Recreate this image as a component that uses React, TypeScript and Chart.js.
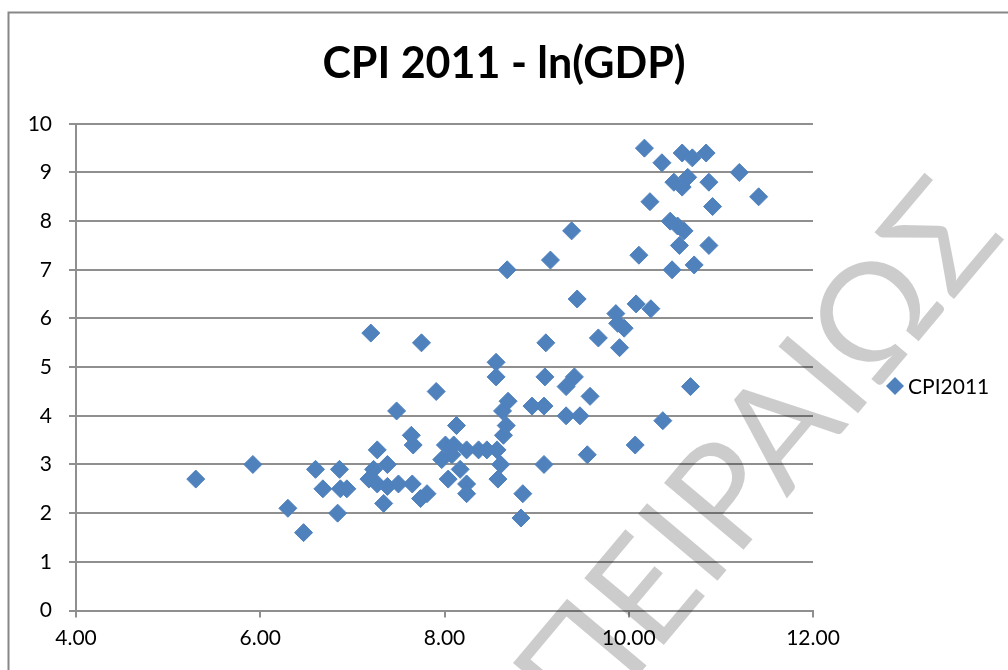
import React, { useEffect, useRef } from "react";
import { Chart, registerables } from "chart.js";

Chart.register(...registerables);

const chartTitle = "CPI 2011 - ln(GDP)";
const seriesName = "CPI2011";
const watermarkText = "ΠΕΙΡΑΙΩΣ";

// ln(GDP) values (x) and CPI 2011 values (y)
const lnGDP = [
  5.3, 5.92, 6.3, 6.47, 6.6, 6.68, 6.84, 6.86, 6.87, 6.94,
  7.18, 7.2, 7.23, 7.27, 7.27, 7.34, 7.38, 7.38, 7.48, 7.5,
  7.64, 7.65, 7.66, 7.74, 7.75, 7.81, 7.91, 7.97, 8.01, 8.04,
  8.08, 8.1, 8.13, 8.17, 8.24, 8.24, 8.24, 8.37, 8.46, 8.56,
  8.56, 8.57, 8.58, 8.61, 8.63, 8.64, 8.67, 8.68, 8.69, 8.83,
  8.85, 8.95, 9.08, 9.08, 9.09, 9.1, 9.15, 9.32, 9.32, 9.38,
  9.41, 9.44, 9.47, 9.55, 9.58, 9.67, 9.86, 9.88, 9.9, 9.95,
  10.07, 10.08, 10.11, 10.17, 10.23, 10.24, 10.36, 10.37, 10.45, 10.47,
  10.49, 10.53, 10.55, 10.58, 10.58, 10.6, 10.64, 10.67, 10.69, 10.71,
  10.84, 10.87, 10.87, 10.91, 11.2, 11.41,
];
const cpi2011 = [
  2.7, 3.0, 2.1, 1.6, 2.9, 2.5, 2.0, 2.9, 2.5, 2.5,
  2.7, 5.7, 2.9, 3.3, 2.6, 2.2, 3.0, 2.55, 4.1, 2.6,
  3.6, 2.6, 3.4, 2.3, 5.5, 2.4, 4.5, 3.1, 3.4, 2.7,
  3.2, 3.4, 3.8, 2.9, 3.3, 2.6, 2.4, 3.3, 3.3, 5.1,
  4.8, 3.3, 2.7, 3.0, 4.1, 3.6, 3.8, 7.0, 4.3, 1.9,
  2.4, 4.2, 4.2, 3.0, 4.8, 5.5, 7.2, 4.6, 4.0, 7.8,
  4.8, 6.4, 4.0, 3.2, 4.4, 5.6, 6.1, 5.9, 5.4, 5.8,
  3.4, 6.3, 7.3, 9.5, 8.4, 6.2, 9.2, 3.9, 8.0, 7.0,
  8.8, 7.9, 7.5, 9.4, 8.7, 7.8, 8.9, 4.6, 9.3, 7.1,
  9.4, 8.8, 7.5, 8.3, 9.0, 8.5,
];

const xMin = 4;
const xMax = 12;
const xStep = 2;
const yMin = 0;
const yMax = 10;
const yStep = 1;

const FONT = "Lato, 'Open Sans', 'DejaVu Sans', sans-serif";
const MARKER = "#4F81BD";
const GRID = "#8f8f8f";

export default function App() {
  const ref = useRef<HTMLCanvasElement | null>(null);

  useEffect(() => {
    if (!ref.current) return;
    const points = lnGDP.map((x, i) => ({ x, y: cpi2011[i] }));

    const frame = {
      id: "frame",
      beforeDraw(chart: any) {
        const ctx = chart.ctx;
        ctx.save();
        ctx.fillStyle = "#ffffff";
        ctx.fillRect(0, 0, chart.width, chart.height);
        ctx.strokeStyle = "#878787";
        ctx.lineWidth = 2;
        ctx.strokeRect(8.5, 12.5, chart.width + 20, chart.height + 20);
        ctx.restore();
      },
    };

    const legendDraw = {
      id: "legendDraw",
      afterDraw(chart: any) {
        const ctx = chart.ctx;
        ctx.save();
        const cx = 895;
        const cy = 386;
        const r = 9;
        ctx.fillStyle = MARKER;
        ctx.beginPath();
        ctx.moveTo(cx - r, cy);
        ctx.lineTo(cx, cy - r);
        ctx.lineTo(cx + r, cy);
        ctx.lineTo(cx, cy + r);
        ctx.closePath();
        ctx.fill();
        ctx.fillStyle = "#000";
        ctx.font = `21px ${FONT}`;
        ctx.textAlign = "left";
        ctx.textBaseline = "middle";
        ctx.fillText(seriesName, 908, cy + 1);
        ctx.restore();
      },
    };

    const watermark = {
      id: "watermark",
      afterDraw(chart: any) {
        const ctx = chart.ctx;
        ctx.save();
        ctx.translate(584, 740);
        ctx.rotate(-50 * Math.PI / 180);
        ctx.fillStyle = "rgba(0,0,0,0.2)";
        ctx.font = `145px ${FONT}`;
        ctx.textAlign = "left";
        ctx.textBaseline = "alphabetic";
        ctx.fillText(watermarkText, 0, 0);
        ctx.restore();
      },
    };

    const chart = new Chart(ref.current, {
      type: "scatter",
      data: {
        datasets: [
          {
            label: seriesName,
            data: points,
            pointStyle: "rectRot",
            pointRadius: 9,
            pointHoverRadius: 9,
            backgroundColor: MARKER,
            borderColor: MARKER,
            borderWidth: 1,
          },
        ],
      },
      options: {
        responsive: false,
        animation: false,
        devicePixelRatio: 1,
        layout: { padding: 0 },
        plugins: {
          legend: { display: false },
          tooltip: { enabled: false },
          title: {
            display: true,
            text: chartTitle,
            color: "#000",
            font: { family: FONT, size: 43, weight: "bold", lineHeight: 1.2 },
            padding: { top: 38, bottom: 34.2 },
          },
        },
        scales: {
          x: {
            type: "linear",
            min: xMin,
            max: xMax,
            ticks: {
              stepSize: xStep,
              color: "#000",
              font: { family: FONT, size: 21 },
              padding: 8,
              callback: (v: any) => Number(v).toFixed(2),
            },
            grid: {
              drawOnChartArea: false,
              drawTicks: true,
              tickLength: 7,
              color: GRID,
              lineWidth: 2,
            },
            border: { display: true, color: GRID, width: 2 },
            afterFit: (s: any) => {
              s.height = 59.5;
            },
          },
          y: {
            type: "linear",
            min: yMin,
            max: yMax,
            ticks: {
              stepSize: yStep,
              color: "#000",
              font: { family: FONT, size: 21 },
              padding: 17,
            },
            grid: {
              drawOnChartArea: true,
              drawTicks: true,
              tickLength: 7,
              color: GRID,
              lineWidth: 2,
            },
            border: { display: true, color: GRID, width: 2 },
            afterFit: (s: any) => {
              s.width = 76;
            },
          },
          spacer: {
            type: "linear",
            position: "right",
            display: true,
            ticks: { display: false },
            grid: { display: false },
            border: { display: false },
            afterFit: (s: any) => {
              s.width = 195;
            },
          },
        },
      },
      plugins: [frame, legendDraw, watermark],
    } as any);

    return () => chart.destroy();
  }, []);

  return (
    <div style={{ position: "fixed", left: 0, top: 0, width: 1008, height: 670, background: "#fff" }}>
      <canvas ref={ref} width={1008} height={670} style={{ display: "block" }} />
    </div>
  );
}
